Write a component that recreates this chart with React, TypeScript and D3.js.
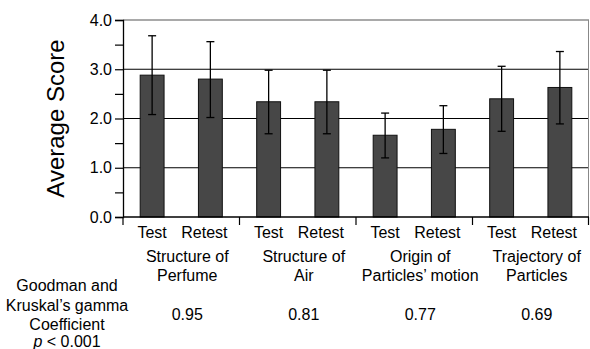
import { useEffect, useRef } from 'react';
import * as d3 from 'd3';

// topic groups, two label lines each
const groupLines = [
  ['Structure of', 'Perfume'],
  ['Structure of', 'Air'],
  ['Origin of', 'Particles\u2019 motion'],
  ['Trajectory of', 'Particles'],
];
const sessions = ['Test', 'Retest'];
const means = [2.88, 2.8, 2.34, 2.34, 1.66, 1.78, 2.4, 2.63];
const errUpper = [3.68, 3.56, 2.98, 2.98, 2.11, 2.26, 3.06, 3.36];
const errLower = [2.08, 2.02, 1.69, 1.69, 1.2, 1.29, 1.74, 1.89];
const gammas = ['0.95', '0.81', '0.77', '0.69'];
const yTicks = [0, 0.5, 1, 1.5, 2, 2.5, 3, 3.5, 4];

const FONT = '"Liberation Sans", Arial, Helvetica, sans-serif';
const FS = '16px';

const App = () => {
  const svgRef = useRef<SVGSVGElement>(null);

  useEffect(() => {
    const width = 590;
    const height = 349;
    const margin = { top: 20, right: 1, bottom: 132, left: 123 };

    const svg = d3.select(svgRef.current).attr('width', width).attr('height', height);
    svg.selectAll('*').remove();

    const bars = means.map((m, i) => ({
      key: 'b' + i,
      group: i >> 1,
      session: sessions[i % 2],
      mean: m,
      hi: errUpper[i],
      lo: errLower[i],
    }));

    const x = d3.scaleBand()
      .domain(bars.map(d => d.key))
      .range([margin.left, width - margin.right])
      .paddingInner(0.59)
      .paddingOuter(0.295);

    const xg = d3.scaleBand()
      .domain(groupLines.map((_, i) => String(i)))
      .range([margin.left, width - margin.right])
      .padding(0);

    const y = d3.scaleLinear()
      .domain([0, 4])
      .range([height - margin.bottom, margin.top]);

    const x0 = margin.left;
    const x1 = width - margin.right;

    // grid lines at whole values
    svg.append('g')
      .selectAll('line')
      .data([1, 2, 3])
      .enter().append('line')
      .attr('x1', x0).attr('x2', x1)
      .attr('y1', d => y(d)).attr('y2', d => y(d))
      .attr('stroke', '#000')
      .attr('stroke-width', 1.2);

    // top and right frame
    svg.append('line')
      .attr('x1', x0).attr('x2', x1)
      .attr('y1', y(4)).attr('y2', y(4))
      .attr('stroke', '#555').attr('stroke-width', 1.2);
    svg.append('line')
      .attr('x1', x1 - 0.5).attr('x2', x1 - 0.5)
      .attr('y1', y(4)).attr('y2', y(0))
      .attr('stroke', '#888').attr('stroke-width', 1);

    // bars
    svg.selectAll('.bar')
      .data(bars)
      .enter().append('rect')
      .attr('class', 'bar')
      .attr('x', d => x(d.key)!)
      .attr('y', d => y(d.mean))
      .attr('width', x.bandwidth())
      .attr('height', d => y(0) - y(d.mean))
      .attr('fill', '#474747')
      .attr('stroke', '#111')
      .attr('stroke-width', 1);

    // error bars
    const err = svg.append('g').attr('stroke', '#000').attr('stroke-width', 1.3);
    bars.forEach(d => {
      const cx = x(d.key)! + x.bandwidth() / 2;
      err.append('line').attr('x1', cx).attr('x2', cx).attr('y1', y(d.hi)).attr('y2', y(d.lo));
      err.append('line').attr('x1', cx - 4).attr('x2', cx + 4).attr('y1', y(d.hi)).attr('y2', y(d.hi));
      err.append('line').attr('x1', cx - 4).attr('x2', cx + 4).attr('y1', y(d.lo)).attr('y2', y(d.lo));
    });

    // y axis
    const yAxis = svg.append('g')
      .attr('transform', `translate(${x0},0)`)
      .call(d3.axisLeft(y)
        .tickValues(yTicks)
        .tickSize(8)
        .tickPadding(3)
        .tickFormat(d => (Number(d) % 1 === 0 ? Number(d).toFixed(1) : '')));
    yAxis.select('.domain').attr('stroke', '#000').attr('stroke-width', 1.3);
    yAxis.selectAll('.tick line').attr('stroke', '#000').attr('stroke-width', 1.2);
    yAxis.selectAll('text')
      .style('font-size', FS)
      .style('font-family', FONT)
      .attr('fill', '#000');

    // x axis line and group separators
    svg.append('line')
      .attr('x1', x0).attr('x2', x1)
      .attr('y1', y(0)).attr('y2', y(0))
      .attr('stroke', '#000').attr('stroke-width', 1.3);
    const seps = xg.domain().map(g => xg(g)!).concat([x1 - 0.5]);
    svg.append('g')
      .selectAll('line')
      .data(seps)
      .enter().append('line')
      .attr('x1', d => d).attr('x2', d => d)
      .attr('y1', y(0)).attr('y2', y(0) + 8)
      .attr('stroke', '#000').attr('stroke-width', 1.2);

    // session labels
    svg.selectAll('.session')
      .data(bars)
      .enter().append('text')
      .attr('class', 'session')
      .attr('x', d => x(d.key)! + x.bandwidth() / 2 - (d.session === 'Retest' ? 6 : 0))
      .attr('y', 238)
      .attr('text-anchor', 'middle')
      .style('font-size', FS)
      .style('font-family', FONT)
      .text(d => d.session);

    // group labels
    groupLines.forEach((lines, i) => {
      const cx = xg(String(i))! + xg.bandwidth() / 2 + 6;
      lines.forEach((t, j) => {
        svg.append('text')
          .attr('x', cx)
          .attr('y', 262 + j * 19)
          .attr('text-anchor', 'middle')
          .style('font-size', FS)
          .style('font-family', FONT)
          .text(t);
      });
      svg.append('text')
        .attr('x', cx)
        .attr('y', 320)
        .attr('text-anchor', 'middle')
        .style('font-size', FS)
        .style('font-family', FONT)
        .text(gammas[i]);
    });

    // gamma caption
    const cap = ['Goodman and', 'Kruskal\u2019s gamma', 'Coefficient'];
    cap.forEach((t, j) => {
      svg.append('text')
        .attr('x', 67)
        .attr('y', 291 + j * 19.5)
        .attr('text-anchor', 'middle')
        .style('font-size', FS)
        .style('font-family', FONT)
        .text(t);
    });
    const pText = svg.append('text')
      .attr('x', 67)
      .attr('y', 347)
      .attr('text-anchor', 'middle')
      .style('font-size', FS)
      .style('font-family', FONT);
    pText.append('tspan').style('font-style', 'italic').text('p');
    pText.append('tspan').text(' < 0.001');

    // y axis title
    svg.append('text')
      .attr('transform', `translate(64,${(y(0) + y(4)) / 2}) rotate(-90)`)
      .attr('text-anchor', 'middle')
      .style('font-size', '24px')
      .style('font-family', FONT)
      .text('Average Score');
  }, []);

  return (
    <div>
      <svg ref={svgRef} style={{ position: 'absolute', left: 0, top: 0, display: 'block' }}></svg>
    </div>
  );
};

export default App;
